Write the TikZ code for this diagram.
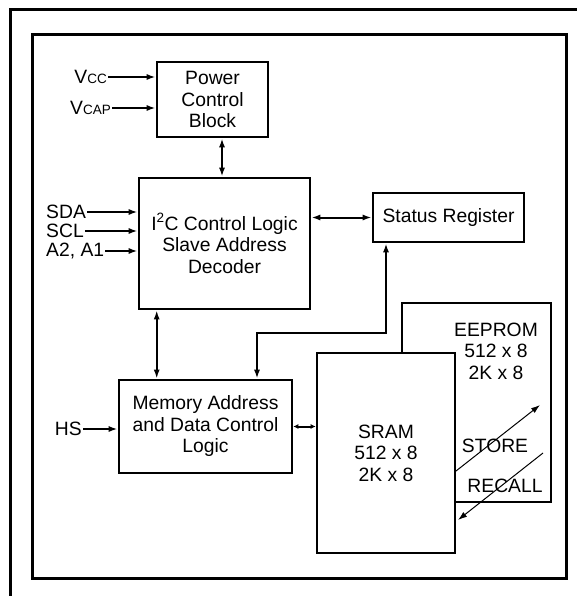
\documentclass[tikz,border=0pt]{standalone}
\usepackage{fontspec}
\setmainfont{Liberation Sans}
\usetikzlibrary{arrows.meta,positioning}

\begin{document}
\begin{tikzpicture}[x=1pt,y=-1pt]

      \tikzstyle{block}=[rectangle,draw,line width=2.6pt,
        fill=white,inner sep=0pt,text centered,align=center,
        font=\fontsize{19.3}{21.5}\selectfont]
      \tikzstyle{pin}=[inner sep=1pt,
        font=\fontsize{19.3}{21.5}\selectfont]
      \tikzstyle{bus}=[line width=2pt,
        -{Latex[length=9pt,width=6pt]}]
      \tikzstyle{bibus}=[line width=2pt,
        {Latex[length=9pt,width=6pt]}-{Latex[length=9pt,width=6pt]}]

      \useasboundingbox (0,0) rectangle (577,596);

      % frames
      \draw [line width=3pt] (10,596) -- (10,10) -- (580,10);
      \draw [line width=3pt] (32,35) rectangle (566,578);

      \node(Power)[block,minimum width=111pt,minimum height=75pt]
        at (212.5,99.5) {Power\\Control\\Block};
      \node(I2C)[block,minimum width=171pt,minimum height=131pt]
        at (224.5,243.5) {I\textsuperscript{2}C Control Logic\\Slave Address\\Decoder};
      \node(Status)[block,minimum width=151pt,minimum height=49pt]
        at (448.5,217.5) {Status Register};
      \node(Memory)[block,minimum width=173pt,minimum height=93pt]
        at (205.5,426.5) {Memory Address\\and Data Control\\Logic};
      \node(EEPROM)[block,minimum width=149pt,minimum height=199pt]
        at (476.5,402.5) {};
      \node(EEPROMtext)[pin,align=center] at (496,351)
        {EEPROM\\512 x 8\\2K x 8};
      \node(SRAM)[block,minimum width=138pt,minimum height=200pt]
        at (386,453) {SRAM\\512 x 8\\2K x 8};

      % pins
      \node(Vcc)[pin,anchor=east] at (108,77)
        {V{\fontsize{13.5}{13.5}\selectfont CC}};
      \node(Vcap)[pin,anchor=east] at (112,108)
        {V{\fontsize{13.5}{13.5}\selectfont CAP}};
      \node(SDA)[pin,anchor=west] at (45,212) {SDA};
      \node(SCL)[pin,anchor=west] at (45,231) {SCL};
      \node(A2A1)[pin,anchor=west] at (45,251) {A2, A1};
      \node(HS)[pin,anchor=east] at (83,429) {HS};

      \draw [bus] (Vcc.east) -- (Vcc.east -| Power.west);
      \draw [bus] (Vcap.east) -- (Vcap.east -| Power.west);
      \draw [bus] (SDA.east) -- (SDA.east -| I2C.west);
      \draw [bus] (SCL.east) -- (SCL.east -| I2C.west);
      \draw [bus] (A2A1.east) -- (A2A1.east -| I2C.west);
      \draw [bus] (HS.east) -- (HS.east -| Memory.west);

      \draw [bibus] ([xshift=-2.5pt]Power.south -| I2C.north)
        -- ([xshift=-2.5pt]I2C.north);
      \draw [bibus] (I2C.east |- Status.west) -- (Status.west);
      \draw [bibus] ([xshift=39pt]Memory.north west |- I2C.south)
        -- ([xshift=39pt]Memory.north west);
      \draw [bibus] ([xshift=-62.5pt]Status.south) -- ++(0,90)
        -| ([xshift=51.5pt]Memory.north);
      \draw [line width=2pt,
        {Latex[length=5pt,width=5pt]}-{Latex[length=5pt,width=5pt]}]
        (Memory.east) -- (Memory.east -| SRAM.west);

      % store / recall
      \coordinate(StoreA) at (456,471);
      \coordinate(StoreB) at (540,405);
      \coordinate(RecallA) at (543,453);
      \coordinate(RecallB) at (458,520);
      \draw [line width=1pt,-{Latex[length=9pt,width=6pt]}]
        (StoreA) -- (StoreB);
      \draw [line width=1pt,-{Latex[length=9pt,width=6pt]}]
        (RecallA) -- (RecallB);
      \node(Store)[pin] at (495,446) {STORE};
      \node(Recall)[pin] at (505,486) {RECALL};

    \end{tikzpicture}
\end{document}
